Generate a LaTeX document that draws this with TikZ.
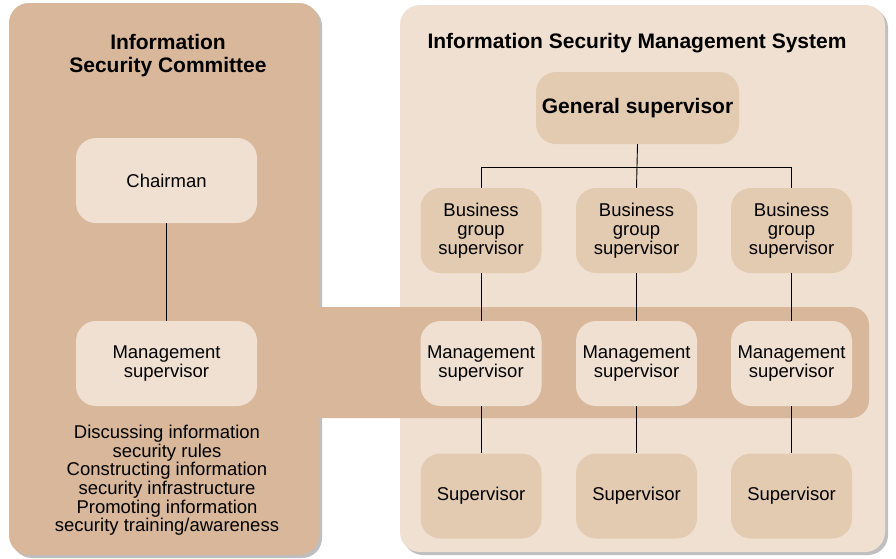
\documentclass[tikz,border=0pt]{standalone}
\usepackage{fontspec}
\setmainfont{Liberation Sans}
\usetikzlibrary{shadows}
\definecolor{tanc}{HTML}{D8B79A}
\definecolor{lightc}{HTML}{F0E0D1}
\definecolor{midc}{HTML}{E3CBB2}
\tikzset{
  panel/.style={rectangle, rounded corners=20pt, inner sep=0pt,
    drop shadow={shadow xshift=3pt, shadow yshift=-3pt, opacity=0.45, fill=black!55}},
  lbox/.style={rectangle, rounded corners=20pt, fill=lightc, inner sep=0pt,
    minimum width=181pt, minimum height=85pt, align=center,
    font=\fontsize{18.5}{19}\selectfont},
  dbox/.style={rectangle, rounded corners=20pt, fill=midc, inner sep=0pt,
    minimum width=121pt, minimum height=85pt, align=center,
    font=\fontsize{18.5}{19}\selectfont},
  mbox/.style={dbox, fill=lightc},
  ttl/.style={align=center, font=\bfseries\fontsize{21}{23}\selectfont, inner sep=0pt},
  txt/.style={align=center, font=\fontsize{18.5}{18.6}\selectfont, inner sep=0pt},
  conn/.style={draw=black, line width=0.9pt}
}
\begin{document}
\begin{tikzpicture}[x=1pt,y=-1pt]
\useasboundingbox[fill=white] (0,0) rectangle (896,558);
% panels
\node[panel, fill=tanc, minimum width=310pt, minimum height=552pt] (lp) at (164,279) {};
\node[panel, fill=lightc, minimum width=485pt, minimum height=547pt] (rp) at (642.5,278.5) {};
% band
\fill[tanc, rounded corners=18pt] (290,307) -- (869,307) -- (869,418) -- (290,418) -- cycle;
\fill[tanc] (290,307) rectangle (320,418);
% titles
\node[ttl] (lt) at (168,56) {Information\\Security Committee};
\node[ttl] (rt) at (637,43.5) {Information Security Management System};
% left column
\node[lbox] (chair) at (166.5,180.5) {Chairman};
\node[lbox] (lmg) at (166.5,363.5) {Management\\supervisor};
\node[txt] (ltxt) at (167,480.5) {Discussing information\\security rules\\Constructing information\\security infrastructure\\Promoting information\\security training/awareness};
% right side
\node[dbox, minimum width=203pt, minimum height=72pt, font=\bfseries\fontsize{21}{23}\selectfont] (gen) at (637.5,108) {General supervisor};
\foreach \i/\x in {1/481,2/636.5,3/791.5}{
  \node[dbox] (bg\i) at (\x,230.5) {Business\\group\\supervisor};
  \node[mbox] (mg\i) at (\x,363.5) {Management\\supervisor};
  \node[dbox] (sp\i) at (\x,496) {Supervisor};
}
% connectors
\coordinate (bus) at (636.5,167);
\draw[conn] (chair.south) -- (lmg.north);
\draw[conn] (gen.south) -- (bg2.north);
\draw[conn] (bg1.north) |- (bus);
\draw[conn] (bg3.north) |- (bus);
\foreach \i in {1,2,3}{
  \draw[conn] (bg\i.south) -- (mg\i.north);
  \draw[conn] (mg\i.south) -- (sp\i.north);
}
\end{tikzpicture}
\end{document}
